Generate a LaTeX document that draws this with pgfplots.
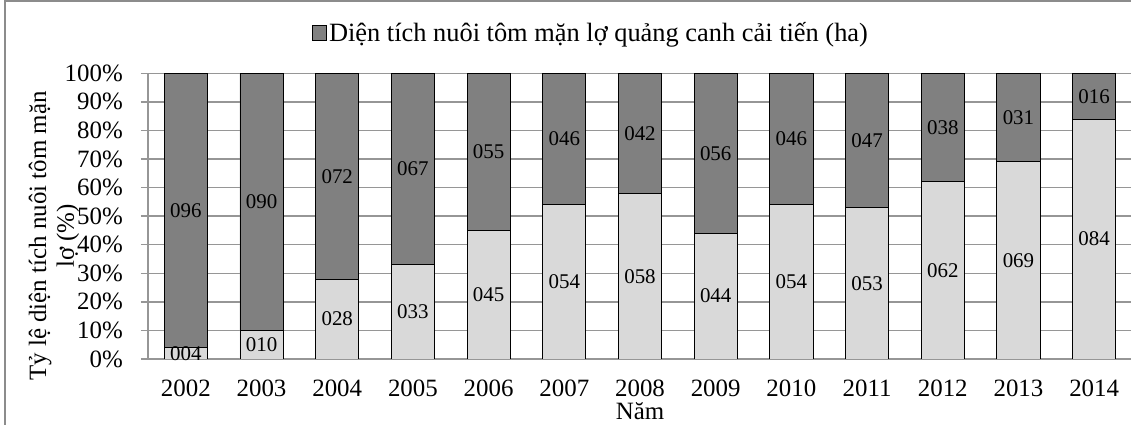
\documentclass[border=0pt]{standalone}
\usepackage{fontspec}
\setmainfont{Liberation Serif}
\usepackage{pgfplots}
\pgfplotsset{compat=1.18}
\definecolor{darkbar}{RGB}{128,128,128}
\definecolor{lightbar}{RGB}{217,217,217}
\definecolor{gridc}{RGB}{150,150,150}
\definecolor{framec}{RGB}{140,140,140}
\newcommand\ff{\fontsize{25}{28}\selectfont}
\newcommand\fg{\fontsize{26.5}{30}\selectfont}
\newcommand\fl{\fontsize{21}{24}\selectfont}
\begin{document}
\begin{tikzpicture}
\useasboundingbox (0,0) rectangle (1131bp,425bp);
\draw[framec, line width=2bp] (5bp,0) -- (5bp,424bp) -- (1131bp,424bp);
\begin{axis}[
 at={(148bp,66bp)}, anchor=south west,
 scale only axis, width=984bp, height=285.7bp,
 xmin=-0.5, xmax=12.5, ymin=0, ymax=100,
 ybar stacked, bar width=0.57,
 xtick={0,1,2,3,4,5,6,7,8,9,10,11,12},
 xticklabels={2002,2003,2004,2005,2006,2007,2008,2009,2010,2011,2012,2013,2014},
 ytick={0,10,20,30,40,50,60,70,80,90,100},
 yticklabels={0\%,10\%,20\%,30\%,40\%,50\%,60\%,70\%,80\%,90\%,100\%},
 ymajorgrids, grid style={gridc, line width=1.5bp},
 axis y line*=left,
 x axis line style={gridc, line width=1.5bp},
 y axis line style={gridc, line width=1.5bp},
 xtick style={draw=none},
 ytick style={gridc, line width=1.5bp},
 tick align=outside, major tick length=7bp, ytick pos=left,
 xticklabel style={anchor=base, yshift=-30bp, font=\ff, inner sep=0pt},
 yticklabel style={anchor=east, xshift=-14.7bp, font=\ff},
 xlabel={Năm},
 xlabel style={at={(rel axis cs:0.5,-0.211)}, anchor=base, font=\ff, inner sep=0pt},
 ylabel={Tỷ lệ diện tích nuôi tôm mặn\\lợ (\%)},
 ylabel style={at={(rel axis cs:-0.0955,0.4305)}, anchor=center, align=center, font=\ff},
 legend style={at={(rel axis cs:0.1667,1.141)}, anchor=west, draw=none, fill=none, font=\fg, inner sep=0pt},
 legend image code/.code={\draw[#1] (0bp,-7bp) rectangle (14bp,7.5bp);},
]
\addplot[fill=lightbar, draw=black, line width=0.8bp, forget plot] coordinates {
(0,4) (1,10) (2,28) (3,33) (4,45) (5,54) (6,58) (7,44) (8,54) (9,53) (10,62) (11,69) (12,84)};
\addplot[fill=darkbar, draw=black, line width=0.8bp] coordinates {
(0,96) (1,90) (2,72) (3,67) (4,55) (5,46) (6,42) (7,56) (8,46) (9,47) (10,38) (11,31) (12,16)};
\addlegendentry{Diện tích nuôi tôm mặn lợ quảng canh cải tiến (ha)}
\end{axis}
\begin{axis}[
 at={(148bp,66bp)}, anchor=south west,
 scale only axis, width=984bp, height=285.7bp,
 xmin=-0.5, xmax=12.5, ymin=0, ymax=100,
 hide axis, clip=false,
]
\addplot[draw=none, mark=none, nodes near coords, point meta=explicit symbolic,
 nodes near coords style={anchor=center, font=\fl, inner sep=0pt}] coordinates {
(0,2) [004] (1,5) [010] (2,14) [028] (3,16.5) [033] (4,22.5) [045] (5,27) [054]
(6,29) [058] (7,22) [044] (8,27) [054] (9,26.5) [053] (10,31) [062] (11,34.5) [069] (12,42) [084]
(0,52) [096] (1,55) [090] (2,64) [072] (3,66.5) [067] (4,72.5) [055] (5,77) [046]
(6,79) [042] (7,72) [056] (8,77) [046] (9,76.5) [047] (10,81) [038] (11,84.5) [031] (12,92) [016]
};
\end{axis}
\end{tikzpicture}
\end{document}
